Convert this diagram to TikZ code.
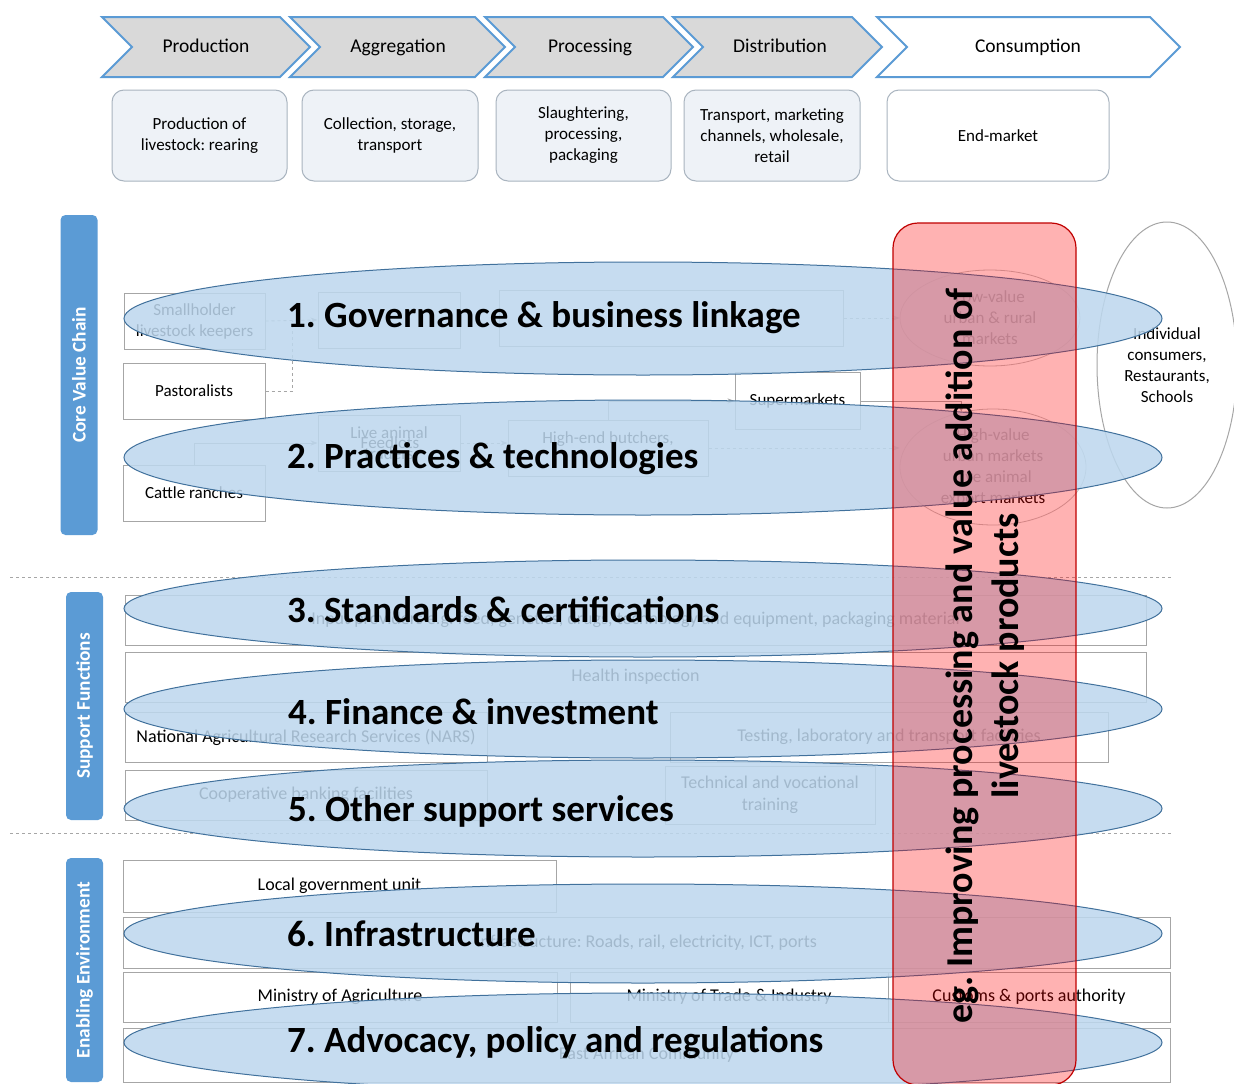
\documentclass[tikz,border=0pt]{standalone}
\usepackage{fontspec}
\setmainfont{Carlito}
\usetikzlibrary{shapes.geometric,arrows.meta}
\frenchspacing
\definecolor{chevfill}{HTML}{D9D9D9}
\definecolor{chevline}{HTML}{5B9BD5}
\definecolor{stagefill}{HTML}{EEF2F7}
\definecolor{stageline}{HTML}{A9B4BF}
\definecolor{boxline}{HTML}{A6A6A6}
\definecolor{barblue}{HTML}{5B9BD5}
\definecolor{ellfill}{HTML}{BDD7EE}
\definecolor{elldraw}{HTML}{41719C}
\definecolor{reddraw}{HTML}{C00000}
\begin{document}
\begin{tikzpicture}[x=1pt,y=-1pt,
  chev/.style={draw=chevline, line width=2pt, fill=chevfill, line join=miter},
  chevlbl/.style={font=\fontsize{19.5}{23}\selectfont, text height=13pt, text depth=4pt, inner sep=0pt},
  stagebox/.style={draw=stageline, line width=1pt, fill=stagefill, rounded corners=12pt, align=center, font=\fontsize{17}{21}\selectfont, inner sep=0pt, minimum height=91pt},
  vcbox/.style={draw=boxline, line width=1pt, fill=white, align=center, font=\fontsize{17}{21}\selectfont, inner sep=0pt},
  sfbox/.style={vcbox, font=\fontsize{18}{22}\selectfont},
  flow/.style={draw=boxline, line width=0.9pt},
  sidebar/.style={fill=barblue, rounded corners=5pt, rotate=90, text=white, font=\bfseries\fontsize{19.3}{23}\selectfont, minimum height=37pt},
  blob/.style={ellipse, draw=elldraw, line width=1pt, fill=ellfill, fill opacity=0.86, inner sep=0pt, minimum width=1038pt},
  blobtxt/.style={anchor=west, font=\bfseries\fontsize{37}{44}\selectfont, inner sep=0pt},
  redband/.style={draw=reddraw, line width=1.2pt, fill=red, fill opacity=0.3, rounded corners=25pt, inner sep=0pt},
  sep/.style={draw=boxline, dashed, line width=1pt},
  mkt/.style={ellipse, draw=boxline!70, line width=0.8pt, align=center, font=\fontsize{17}{21}\selectfont, inner sep=0pt}
]
\useasboundingbox (0,0) rectangle (1234,1084);
\fill[white] (0,0) rectangle (1234,1084);

% chevrons
\draw[chev] (102,17) -- (280,17) -- (310,47) -- (280,77) -- (102,77) -- (132,47) -- cycle;
\draw[chev] (290,17) -- (475,17) -- (505,47) -- (475,77) -- (290,77) -- (320,47) -- cycle;
\draw[chev] (485,17) -- (663,17) -- (693,47) -- (663,77) -- (485,77) -- (515,47) -- cycle;
\draw[chev] (673,17) -- (852,17) -- (882,47) -- (852,77) -- (673,77) -- (703,47) -- cycle;
\draw[chev, fill=white] (877,17) -- (1150,17) -- (1180,47) -- (1150,77) -- (877,77) -- (907,47) -- cycle;
\node[chevlbl] (cprod) at (206,48) {Production};
\node[chevlbl] (cagg) at (398,48) {Aggregation};
\node[chevlbl] (cproc) at (590,48) {Processing};
\node[chevlbl] (cdist) at (780,48) {Distribution};
\node[chevlbl] (ccons) at (1028,48) {Consumption};

% stage boxes
\node[stagebox, minimum width=175pt] (s1) at (199.5,135.5) {Production of\\livestock: rearing};
\node[stagebox, minimum width=176pt] (s2) at (390,135.5) {Collection, storage,\\transport};
\node[stagebox, minimum width=175pt] (s3) at (583.5,135.5) {Slaughtering,\\processing,\\packaging};
\node[stagebox, minimum width=176pt] (s4) at (772,135.5) {Transport, marketing\\channels, wholesale,\\retail};
\node[stagebox, minimum width=222pt, fill=white] (s5) at (998,135.5) {End-market};

% side bars
\node[sidebar, minimum width=320pt] (cvc) at (79,375) {Core Value Chain};
\node[sidebar, minimum width=228pt] (sup) at (84.5,706) {Support Functions};
\node[sidebar, minimum width=224pt] (env) at (84.5,970) {Enabling Environment};

% separators
\draw[sep] (10,577) -- (1172,577);
\draw[sep] (10,833) -- (1172,833);

% core value chain
\node[vcbox, minimum width=141pt, minimum height=56pt] (sm) at (194.5,321) {Smallholder\\livestock keepers};
\node[vcbox, minimum width=142pt, minimum height=56pt] (past) at (194,391) {Pastoralists};
\node[vcbox, minimum width=142pt, minimum height=56pt] (cattle) at (194,493) {Cattle ranches};
\node[vcbox, minimum width=142pt, minimum height=56pt] (trd) at (389,320) {};
\node[vcbox, minimum width=344pt, minimum height=56pt] (box2) at (671,318) {};
\node[vcbox, minimum width=142pt, minimum height=56pt] (live) at (389,443) {Live animal\\traders};
\node[font=\fontsize{17}{21}\selectfont] (feed) at (390,443) {Feedlots};
\node[vcbox, minimum width=200pt, minimum height=56pt] (butch) at (608,448) {High-end butchers,\\\phantom{x}};
\node[vcbox, minimum width=125pt, minimum height=57pt] (supm) at (797.5,401) {Supermarkets};
\node[mkt, minimum width=180pt, minimum height=96pt] (mk1) at (990,318) {Low-value\\urban \& rural\\markets};
\node[mkt, minimum width=186pt, minimum height=116pt] (mk2) at (993,467) {High-value\\urban markets\\Live animal\\export markets};
\coordinate (j1) at (292,321);
\draw[flow, dashed, -{Stealth}] (sm.east) -- (trd.west);
\draw[flow, dashed] (past.east) -| (j1);
\draw[flow, -{Stealth}] (cattle.north) |- (live.west);
\draw[flow, dashed, -{Stealth}] (live.east) -- (live.east -| butch.west);
\draw[flow, -{Stealth}] (butch.north) |- (supm.west);
\draw[flow, dashed, -{Stealth}] (box2.east) -- (mk1.west);
\draw[flow, -{Stealth}] (supm.east) -| (mk2.120);
\draw[flow, dashed, -{Stealth}] (butch.east) -- (butch.east -| mk2.west);

% consumers
\node[ellipse, draw=boxline, line width=1pt, minimum width=140pt, minimum height=286pt, align=center, font=\fontsize{17}{21}\selectfont, inner sep=0pt] (cons) at (1167,365) {Individual\\consumers,\\Restaurants,\\Schools};

% support functions
\node[sfbox, minimum width=1021pt, minimum height=50pt] (inp) at (635.5,620) {Input providers e.g. feed, genetics, drugs, technology and equipment, packaging material};
\node[sfbox, minimum width=1021pt, minimum height=50pt] (hlth) at (635.5,677) {Health inspection};
\node[sfbox, minimum width=362pt, minimum height=50pt] (nars) at (306,737) {National Agricultural Research Services (NARS)};
\node[sfbox, minimum width=438pt, minimum height=50pt] (test) at (889,737) {Testing, laboratory and transport facilities};
\node[sfbox, minimum width=362pt, minimum height=50pt] (coop) at (306,795) {Cooperative banking facilities};
\node[sfbox, minimum width=210pt, minimum height=58pt] (tvet) at (770,795) {Technical and vocational\\training};

% enabling environment
\node[sfbox, minimum width=433pt, minimum height=52pt] (lgu) at (339.5,886) {Local government unit};
\node[sfbox, minimum width=1047pt, minimum height=51pt] (infra) at (646.5,942.5) {Infrastructure: Roads, rail, electricity, ICT, ports};
\node[sfbox, minimum width=434pt, minimum height=50pt] (moa) at (340,997) {Ministry of Agriculture};
\node[sfbox, minimum width=318pt, minimum height=50pt] (mti) at (729,997) {Ministry of Trade \& Industry};
\node[sfbox, minimum width=282pt, minimum height=50pt] (cpa) at (1029,997) {Customs \& ports authority};
\node[sfbox, minimum width=1047pt, minimum height=54pt] (eac) at (646.5,1055) {East African Community};

% blue ellipses
\node[blob, minimum height=113pt] (b1) at (643,318.5) {};
\node[blob, minimum height=115pt] (b2) at (643,457.5) {};
\node[blob, minimum height=97pt] (b3) at (643,608.5) {};
\node[blob, minimum height=98pt] (b4) at (643,709) {};
\node[blob, minimum height=97pt] (b5) at (643,808.5) {};
\node[blob, minimum height=99pt] (b6) at (643,933.5) {};
\node[blob, minimum height=99pt] (b7) at (643,1042.5) {};

% red band
\node[redband, minimum width=183pt, minimum height=862pt] (band) at (984.5,654) {};

% ellipse labels
\node[blobtxt] (t1) at (287,318) {1. Governance \& business linkage};
\node[blobtxt] (t2) at (287,459) {2. Practices \& technologies};
\node[blobtxt] (t3) at (287,610) {3. Standards \& certifications};
\node[blobtxt] (t4) at (288,712) {4. Finance \& investment};
\node[blobtxt] (t5) at (288,811) {5. Other support services};
\node[blobtxt] (t6) at (287,934) {6. Infrastructure};
\node[blobtxt] (t7) at (287,1043) {7. Advocacy, policy and regulations};

\node[rotate=90, align=center, font=\bfseries\fontsize{38}{46}\selectfont, inner sep=0pt] (redtxt) at (985,656) {eg. Improving processing and value addition of\\livestock products};
\end{tikzpicture}
\end{document}
